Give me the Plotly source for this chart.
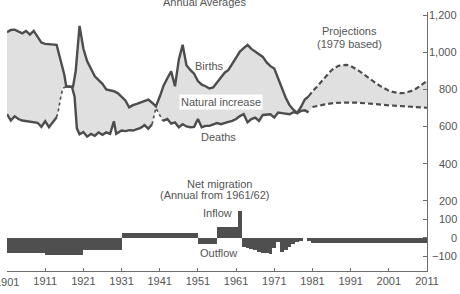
import plotly.graph_objects as go

# ---------------- data (thousands) ----------------
birth_years = [1901, 1902, 1903, 1904, 1905, 1906, 1907, 1908, 1909, 1910,
               1911, 1912, 1913, 1914, 1915, 1916, 1916.5, 1917, 1918, 1918.3,
               1919, 1920, 1920.7, 1921, 1922, 1923, 1924, 1925, 1926, 1927,
               1928, 1929, 1930, 1931, 1932, 1933, 1934, 1935, 1936, 1937,
               1938, 1939, 1940, 1941, 1942, 1943, 1944, 1945, 1946, 1947,
               1948, 1949, 1950, 1951, 1952, 1953, 1954, 1955, 1956, 1957,
               1958, 1959, 1960, 1961, 1962, 1963, 1964, 1965, 1966, 1967,
               1968, 1969, 1970, 1971, 1972, 1973, 1974, 1975, 1976, 1977,
               1978, 1979, 1980]
births = [1108, 1120, 1122, 1110, 1102, 1115, 1095, 1115, 1080, 1052,
          1045, 1042, 1042, 1040, 960, 880, 817, 815, 813, 815,
          900, 1142, 1058, 1020, 951, 910, 870, 850, 830, 800,
          795, 790, 780, 760, 740, 703, 715, 722, 730, 740,
          745, 728, 708, 760, 820, 860, 897, 817, 960, 1040,
          930, 905, 885, 845, 825, 817, 805, 810, 835, 865,
          890, 905, 940, 975, 1004, 1022, 1040, 1018, 1003, 990,
          975, 945, 925, 912, 860, 800, 755, 715, 690, 673,
          705, 745, 762]

death_years = [1901, 1902, 1903, 1904, 1905, 1906, 1907, 1908, 1909, 1910,
               1911, 1912, 1913, 1914, 1914.5, 1915, 1915.6, 1916.5, 1917, 1918,
               1918.7, 1919.3, 1920, 1921, 1922, 1923, 1924, 1925, 1926, 1927,
               1928, 1929, 1929.6, 1930, 1931, 1932, 1933, 1934, 1935, 1936,
               1937, 1938, 1939, 1940, 1941.8, 1942, 1943, 1944, 1945, 1946,
               1947, 1948, 1949, 1950, 1951, 1952, 1953, 1954, 1955, 1956,
               1957, 1958, 1959, 1960, 1961, 1962, 1963, 1964, 1965, 1966,
               1967, 1968, 1969, 1970, 1971, 1972, 1973, 1974, 1975, 1976,
               1977, 1978, 1979, 1980]
deaths = [666, 632, 655, 640, 632, 630, 628, 625, 620, 598,
          628, 596, 620, 650, 690, 750, 805, 815, 815, 814,
          760, 590, 558, 570, 545, 560, 550, 568, 555, 568,
          560, 628, 560, 566, 578, 575, 580, 578, 586, 592,
          607, 588, 612, 700, 630, 632, 640, 615, 622, 596,
          612, 600, 596, 598, 640, 596, 603, 603, 612, 618,
          612, 620, 625, 630, 640, 656, 666, 622, 640, 648,
          630, 662, 664, 666, 648, 675, 672, 668, 666, 677,
          672, 684, 687, 676]
war_periods = [(1914, 1916.5), (1939, 1941.8)]   # deaths incl. war deaths (dotted)

proj_birth_years = [1980, 1981, 1982, 1983, 1984, 1985, 1986, 1987, 1988, 1989,
                    1990, 1991, 1992, 1993, 1994, 1995, 1996, 1997, 1998, 1999,
                    2000, 2001, 2002, 2003, 2004, 2005, 2006, 2007, 2008, 2009,
                    2010, 2011]
proj_births = [762, 790, 810, 835, 860, 880, 903, 918, 928, 932,
               932, 926, 916, 902, 888, 872, 857, 842, 828, 815,
               803, 793, 786, 782, 780, 781, 785, 792, 802, 815,
               830, 845]
proj_death_years = [1981, 1983, 1985, 1987, 1989, 1991, 1993, 1995, 1997, 1999,
                    2001, 2003, 2005, 2007, 2009, 2011]
proj_deaths = [705, 715, 722, 727, 729, 729, 728, 726, 722, 718,
               714, 711, 708, 706, 703, 701]

mig_start = [1901, 1911, 1921, 1931, 1951, 1956, 1961.5, 1962.5, 1963.5, 1964.5,
             1965.5, 1966.5, 1967.5, 1968.5, 1969.5, 1970.5, 1971.5, 1972.5,
             1973.5, 1974.5, 1975.5, 1976.5, 1977.5, 1978.5, 1979.5, 1980.5]
mig_end = [1911, 1921, 1931, 1951, 1956, 1961.5, 1962.5, 1963.5, 1964.5, 1965.5,
           1966.5, 1967.5, 1968.5, 1969.5, 1970.5, 1971.5, 1972.5, 1973.5,
           1974.5, 1975.5, 1976.5, 1977.5, 1978.5, 1979.5, 1980.5, 2011]
mig_values = [-83, -95, -65, 25, -35, 60, 145, -48, -55, -60,
              -66, -74, -80, -84, -88, -56, -24, -76,
              -66, -50, -32, -22, -16, 0, -18, -28]

x_ticks = list(range(1901, 2012, 10))
y_ticks = [-100, 0, 100, 200, 400, 600, 800, 1000, 1200]
y_tick_text = ["\u2212100", "0", "100", "200", "400", "600", "800", "1,000", "1,200"]

# ---------------- style ----------------
LINE = "#4d4d4d"
TXT = "#555555"
AX = "#6e6e6e"
FONT = "Liberation Sans, Arial, sans-serif"

fig = go.Figure()

# stippled natural-increase band
fig.add_trace(go.Scatter(
    x=death_years + proj_death_years, y=deaths + proj_deaths,
    mode="lines", line=dict(width=0, color=LINE), hoverinfo="skip", showlegend=False))
fig.add_trace(go.Scatter(
    x=birth_years + proj_birth_years[1:], y=births + proj_births[1:],
    mode="lines", line=dict(width=0, color=LINE), fill="tonexty",
    fillcolor="#e0e0e0",
    hoverinfo="skip", showlegend=False))

# net migration bars
fig.add_trace(go.Bar(
    x=[(a + b) / 2 for a, b in zip(mig_start, mig_end)],
    width=[b - a for a, b in zip(mig_start, mig_end)],
    y=mig_values, base=0,
    marker=dict(color="#4f4f4f", line=dict(width=0)),
    hoverinfo="skip", showlegend=False))


def add_line(xs, ys, dash, width):
    fig.add_trace(go.Scatter(x=xs, y=ys, mode="lines",
                             line=dict(color=LINE, width=width, dash=dash),
                             hoverinfo="skip", showlegend=False))


# births
add_line(birth_years, births, "solid", 2.4)
add_line(proj_birth_years, proj_births, "5px,3px", 2.2)

# deaths, split into solid / dotted (war) parts
def in_war(a, b):
    return any(p0 <= a and b <= p1 for p0, p1 in war_periods)

seg_x, seg_y = [death_years[0]], [deaths[0]]
cur = in_war(death_years[0], death_years[1])
for i in range(len(death_years) - 1):
    w = in_war(death_years[i], death_years[i + 1])
    if w != cur:
        add_line(seg_x, seg_y, "dot" if cur else "solid", 1.6 if cur else 2.4)
        seg_x, seg_y = [death_years[i]], [deaths[i]]
        cur = w
    seg_x.append(death_years[i + 1])
    seg_y.append(deaths[i + 1])
add_line(seg_x, seg_y, "dot" if cur else "solid", 1.6 if cur else 2.4)
add_line(proj_death_years, proj_deaths, "5px,3px", 2.2)

# ---------------- text ----------------
ann = []
def label(x, y, text, bg=None, size=11):
    d = dict(x=x, y=y, xref="x", yref="y", text=text, showarrow=False,
             font=dict(family=FONT, size=size, color=TXT))
    if bg:
        d.update(bgcolor=bg, borderpad=1)
    ann.append(d)

label(1954.0, 924, "Births")
label(1957.0, 731, "Natural increase", bg="white")
label(1956.4, 541, "Deaths")
label(1990.7, 1117, "Projections")
label(1990.7, 1045, "(1979 based)")
label(1956.6, 291, "Net migration")
label(1955.3, 229, "(Annual from 1961/62)")
label(1956.1, 135, "Inflow")
label(1956.4, -83, "Outflow")

# title, cut off by the top edge as in the original
ann.append(dict(x=1952.7, y=1.040, xref="x", yref="paper", text="Annual Averages",
                showarrow=False, yanchor="middle",
                font=dict(family=FONT, size=11, color=TXT)))

# first year label, partly cut off by the left edge as in the original
ann.append(dict(x=x_ticks[0], y=-0.012, xref="x", yref="paper", text=str(x_ticks[0]),
                showarrow=False, yanchor="top",
                font=dict(family=FONT, size=11, color=TXT)))

for v, t in zip(y_ticks, y_tick_text):
    ann.append(dict(x=1.0765, y=v, xref="paper", yref="y", text=t, showarrow=False,
                    xanchor="right", yanchor="middle",
                    font=dict(family=FONT, size=11, color=TXT)))

fig.update_layout(
    width=460, height=294,
    margin=dict(l=7, r=33, t=12, b=21),
    paper_bgcolor="white", plot_bgcolor="white",
    showlegend=False, annotations=ann, bargap=0,
    font=dict(family=FONT, size=11, color=TXT),
    xaxis=dict(range=[1901, 2011], tickvals=x_ticks, showline=True, linecolor=AX,
               linewidth=1, ticks="inside", ticklen=3, tickcolor=AX,
               showgrid=False, zeroline=False,
               tickfont=dict(family=FONT, size=11, color=TXT)),
    yaxis=dict(range=[-179, 1217], side="right", tickvals=y_ticks,
               showticklabels=False, showline=True, linecolor=AX, linewidth=1,
               ticks="inside", ticklen=4, tickcolor=AX,
               showgrid=False, zeroline=False),
)

fig.write_html("out.html")
